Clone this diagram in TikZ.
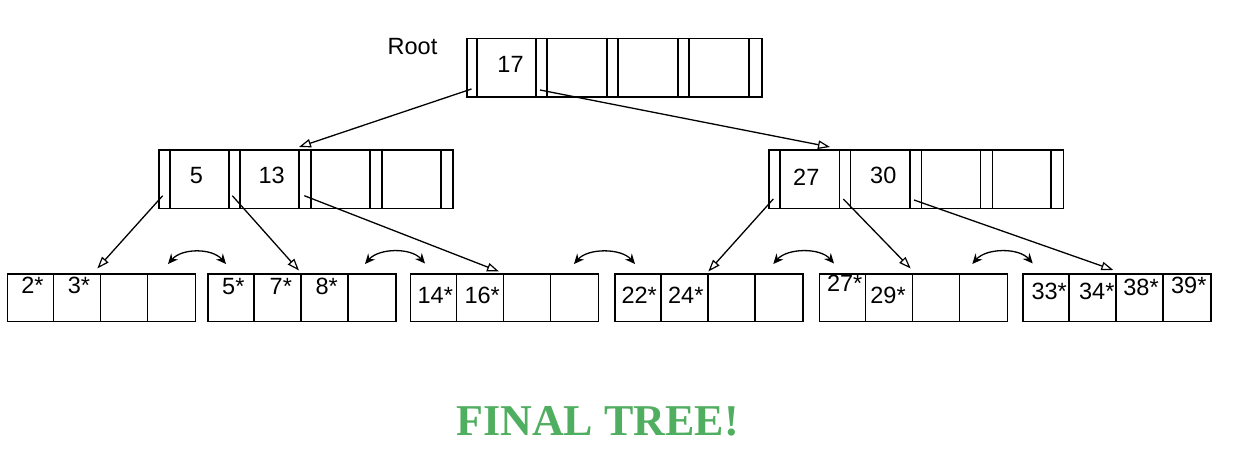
\documentclass[tikz,border=0pt]{standalone}
\usepackage{fontspec}
\setmainfont{Liberation Sans}
\newfontfamily\titlefont{Liberation Serif}
\usetikzlibrary{arrows.meta}
\definecolor{titlegreen}{RGB}{80,174,96}
\begin{document}
\begin{tikzpicture}[x=1pt,y=-1pt,
  box/.style={draw, line width=1.5pt},
  cellline/.style={line width=1.5pt},
  lbl/.style={font=\fontsize{23.5}{28}\selectfont, inner sep=0pt, anchor=base},
  ptr/.style={-{Triangle[open,length=12pt,width=8.5pt,line width=1.2pt]}, line width=1.3pt},
  link/.style={{Stealth[length=10pt,width=9pt]}-{Stealth[length=10pt,width=9pt]}, line width=1.3pt}
]
\useasboundingbox (0,0) rectangle (1236,468);

% ---------- root ----------
\node[lbl, anchor=base west] (rootlbl) at (387.5,54.3) {Root};
\node[box, inner sep=0pt, minimum width=295pt, minimum height=58.5pt, anchor=north west] (root) at (466,38) {};
\foreach \x in {477,536,547,607,618,678,689,749}
  \draw[cellline] (\x,38) -- (\x,96.5);
\node[lbl] (k17) at (510.5,72.7) {17};

% ---------- internal left ----------
\node[box, inner sep=0pt, minimum width=294pt, minimum height=58.5pt, anchor=north west] (inl) at (158,149.3) {};
\foreach \x in {170,229,240,299,311,370,382,441}
  \draw[cellline] (\x,149.3) -- (\x,207.8);
\node[lbl] (k5) at (196.5,183.3) {5};
\node[lbl] (k13) at (271.7,183.3) {13};

% ---------- internal right ----------
\node[box, inner sep=0pt, minimum width=294.7pt, minimum height=58.5pt, anchor=north west] (inr) at (768,149.3) {};
\foreach \x in {780,839.3,850.7,910,921.7,980.7,992.3,1051}
  \draw[cellline] (\x,149.3) -- (\x,207.8);
\node[lbl] (k27) at (806.3,185.7) {27};
\node[lbl] (k30) at (883.3,183.3) {30};

% ---------- leaves ----------
\foreach \i/\L in {1/6.5,2/207,3/409.5,4/614,5/818.5,6/1022}{
  \node[box, inner sep=0pt, minimum width=188pt, minimum height=47.5pt, anchor=north west] (leaf\i) at (\L,273) {};
  \foreach \k in {1,2,3}
    \draw[cellline] (\L+47*\k,273) -- (\L+47*\k,320.5);
}
\node[lbl] (v2)  at (32.5,293.3) {2*};
\node[lbl] (v3)  at (79,293.3) {3*};
\node[lbl] (v5)  at (233.3,294) {5*};
\node[lbl] (v7)  at (280.8,294) {7*};
\node[lbl] (v8)  at (326.7,294) {8*};
\node[lbl] (v14) at (435.3,303.3) {14*};
\node[lbl] (v16) at (482.2,303.3) {16*};
\node[lbl] (v22) at (639.2,303.3) {22*};
\node[lbl] (v24) at (685.8,303.3) {24*};
\node[lbl] (v27) at (844.7,291.7) {27*};
\node[lbl] (v29) at (888,303.5) {29*};
\node[lbl] (v33) at (1049.2,299.3) {33*};
\node[lbl] (v34) at (1096.8,299.3) {34*};
\node[lbl] (v38) at (1141,295) {38*};
\node[lbl] (v39) at (1188.8,293) {39*};

% ---------- pointer coordinates ----------
\coordinate (rp0) at (471.5,89);
\coordinate (rp1) at (540,90);
\coordinate (lp0) at (162.7,195.7);
\coordinate (lp1) at (232.3,195.7);
\coordinate (lp2) at (304.3,195.7);
\coordinate (rrp0) at (773.3,199);
\coordinate (rrp1) at (843.3,199);
\coordinate (rrp2) at (914,200);
\coordinate (tinl) at (299,147);
\coordinate (tinr) at (830,147);
\coordinate (tl1) at (97.3,268.5);
\coordinate (tl2) at (299,270.5);
\coordinate (tl3) at (499,271.5);
\coordinate (tl4) at (708.3,271.5);
\coordinate (tl5) at (910.7,268.5);
\coordinate (tl6) at (1113.3,270);

\draw[ptr] (rp0) -- (tinl);
\draw[ptr] (rp1) -- (tinr);
\draw[ptr] (lp0) -- (tl1);
\draw[ptr] (lp1) -- (tl2);
\draw[ptr] (lp2) -- (tl3);
\draw[ptr] (rrp0) -- (tl4);
\draw[ptr] (rrp1) -- (tl5);
\draw[ptr] (rrp2) -- (tl6);

% ---------- sibling links ----------
\coordinate (d1a) at (168,264);   \coordinate (d1b) at (226,264);
\coordinate (d2a) at (365,264);   \coordinate (d2b) at (425,263.5);
\coordinate (d3a) at (574,264);   \coordinate (d3b) at (635,264);
\coordinate (d4a) at (773.3,264); \coordinate (d4b) at (834,263.5);
\coordinate (d5a) at (972.3,264); \coordinate (d5b) at (1032.7,263.5);
\foreach \n in {1,...,5}
  \draw[link] (d\n a) .. controls +(14,-16) and +(-14,-16) .. (d\n b);

% ---------- title ----------
\node[font=\titlefont\bfseries\fontsize{44}{50}\selectfont, text=titlegreen, inner sep=0pt, anchor=base] (title) at (597.5,435) {FINAL TREE!};
\end{tikzpicture}
\end{document}
